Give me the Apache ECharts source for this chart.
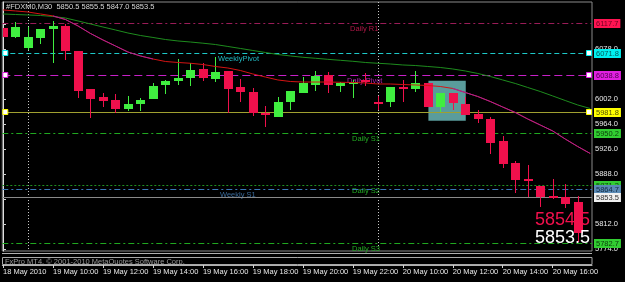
<!DOCTYPE html>
<html><head><meta charset="utf-8">
<script src="https://cdn.jsdelivr.net/npm/echarts@6/dist/echarts.min.js"></script>
<style>html,body{margin:0;padding:0;background:#000;}#c{width:625px;height:282px;}</style>
</head><body><div id="c"></div>
<script>
// ---------- data ----------
const titleText = '#FDXM0,M30  5850.5 5855.5 5847.0 5853.5';
const copyrightText = 'FxPro MT4, \u00a9 2001-2010 MetaQuotes Software Corp.';
const bidText = '5854.5';
const askText = '5853.5';

const timeLabels = ['18 May 2010','19 May 10:00','19 May 12:00','19 May 14:00','19 May 16:00','19 May 18:00',
  '19 May 20:00','19 May 22:00','20 May 10:00','20 May 12:00','20 May 14:00','20 May 16:00'];
const timeTickIndex = [0,4,8,12,16,20,24,28,32,36,40,44];
const priceTicks = [5774,5812,5850,5888,5926,5964,6002,6040,6078,6116];

const opens  = [6109.5,6096.7,6079.1,6094.3,6107.9,6113.0,6075.4,6017.2,6005.0,6000.5,5987.3,5994.4,6001.5,6022.8,6028.9,6033.9,
  6047.6,6032.4,6044.6,6019.8,6012.6,5981.2,5975.1,5997.4,6011.6,6023.3,6038.5,6022.2,6024.3,6031.0,5997.4,5997.9,
  6019.8,6016.7,6025.9,5990.3,6010.7,5994.4,5979.2,5971.1,5938.2,5905.2,5880.4,5869.8,5854.6,5853.5,5845.9];
const closes = [6096.7,6111.0,6095.8,6107.9,6113.4,6075.4,6014.6,6002.5,5999.4,5987.3,5994.4,6000.5,6022.2,6029.4,6033.9,6046.5,
  6033.5,6043.5,6016.7,6012.6,5981.2,5977.2,5997.9,6014.6,6026.8,6037.0,6023.3,6026.8,6028.3,6030.0,5995.9,6019.8,
  6016.7,6025.9,5990.3,6010.7,5995.5,5977.7,5971.1,5935.6,5902.7,5878.9,5877.4,5852.6,5852.3,5842.4,5798.3];
const lows   = [6096.7,6094.3,6076.5,6085.1,6056.3,6061.3,6003.0,5972.7,5990.3,5980.3,5984.2,5984.2,6001.5,6009.1,6023.3,6022.2,
  6029.4,6028.3,5980.3,5997.9,5976.2,5959.0,5975.1,5985.3,6011.6,6014.6,6011.6,6013.1,6004.0,6022.0,5985.3,5990.3,
  5997.9,6013.1,5990.3,5982.7,5985.3,5977.7,5965.1,5918.4,5897.6,5858.7,5853.5,5837.4,5849.5,5835.9,5784.6];
const highs  = [6109.5,6119.5,6111.9,6108.4,6120.6,6115.5,6075.4,6017.2,6011.6,6009.1,6007.0,6003.0,6025.9,6030.9,6062.3,6057.2,
  6056.3,6066.3,6044.6,6032.4,6018.3,5991.4,6004.6,6014.6,6035.0,6044.6,6043.5,6027.5,6030.9,6042.0,6007.0,6020.0,
  6030.9,6044.6,6025.9,6010.7,6010.7,6004.3,5985.3,5975.1,5946.2,5907.8,5901.7,5869.8,5880.0,5872.3,5854.6];

const maFast = [6137.3,6135.8,6134.2,6131.2,6128.2,6122.8,6113.0,6101.6,6091.7,6082.6,6073.4,6067.4,6062.8,6059.0,6057.5,6056.3,
  6054.4,6051.4,6049.1,6045.3,6040.0,6035.4,6030.9,6028.6,6027.8,6027.8,6027.8,6027.4,6027.1,6026.3,6024.8,6024.8,
  6024.0,6023.3,6022.5,6021.0,6018.0,6011.9,6005.8,5998.2,5989.8,5981.5,5971.6,5962.5,5953.4,5941.2,5929.8,5919.2];
const maSlow = [6131.2,6130.4,6129.7,6128.9,6127.4,6125.1,6120.6,6116.0,6111.4,6106.9,6102.3,6098.5,6095.5,6092.4,6090.2,6088.6,
  6086.8,6084.8,6081.8,6078.8,6075.7,6072.7,6069.6,6067.4,6065.4,6063.9,6062.3,6060.8,6059.3,6057.5,6056.3,6055.2,
  6053.7,6052.9,6051.4,6049.9,6047.6,6044.6,6040.8,6036.2,6030.9,6025.6,6019.5,6013.4,6006.6,5999.7,5992.9,5987.6];
const maFastFalling = [[4,12],[36,47]];

const levelNames  = ['Daily R1','WeeklyPivot','Daily Pivot','','Daily S1','Daily S2','Weekly S1','','Daily S3'];
const levelValues = [6117.7,6071.8,6038.8,5981.8,5950.2,5871.3,5864.7,5853.5,5782.7];

const daySeparators = [2,30];
const boxIndexRange = [34.05,37.04];
const boxPriceRange = [6029.8,5969.0];

// ---------- styles / layout ----------
const FONT = 'Liberation Sans';
const UP = '#40ee40', DOWN = '#f0104c';
const levelStyles = [
  {line:'#9a1c58', dash:[6,3,2,3], box:'#ff1452', text:'#700020', name:'#b01848', at:27.8},
  {line:'#1ec8c8', dash:[5,3],     box:'#00f0f0', text:'#005a5a', name:'#20b8c0', at:17.2, sym:true},
  {line:'#c820c8', dash:[8,4],     box:'#e020e0', text:'#500050', name:'#b020b0', at:27.5, sym:true},
  {line:'#a0a030', dash:null,      box:'#ffff00', text:'#505000', name:'#9a9a2a', at:0, sym:true},
  {line:'#20a820', dash:[6,3,2,3], box:'#32cd32', text:'#0c400c', name:'#22a822', at:27.9},
  {line:'#209020', dash:[2,2],     box:'#32cd32', text:'#0c400c', name:'#22a822', at:27.9},
  {line:'#3a78b8', dash:[6,3,2,3], box:'#5a8ab5', text:'#102840', name:'#3a6a9a', at:17.4},
  {line:'#8a8a8a', dash:null,      box:'#f0f0f0', text:'#303030', name:'#808080', at:0},
  {line:'#20a820', dash:[6,3,2,3], box:'#32cd32', text:'#0c400c', name:'#22a822', at:27.9}
];

const candleData = opens.map((o,i)=>[i,o,closes[i],lows[i],highs[i]]);
const fastData = maFast.map((v,i)=>[i,v]);
const slowData = maSlow.map((v,i)=>[i,v]);
const fallData = maFast.map((v,i)=>[i, maFastFalling.some(r=>i>=r[0]&&i<=r[1]) ? v : null]);
const levelData = levelValues.map((v,i)=>[i,v]);
const sepData = daySeparators.map(d=>[d, 6000]);

const font = (s)=> s+'px "'+FONT+'"';

// split a horizontal line into solid dash rectangles (crisp, exact colour)
function dashRects(x0, x1, y, pattern, color){
  const out=[];
  if(!pattern){ out.push({type:'rect', shape:{x:x0,y:y,width:x1-x0,height:1}, style:{fill:color}}); return out; }
  let x=x0, k=0;
  while(x<x1){
    const len=pattern[k%pattern.length];
    if(k%2===0) out.push({type:'rect', shape:{x:x,y:y,width:Math.min(len,x1-x),height:1}, style:{fill:color}});
    x+=len; k++;
  }
  return out;
}

const chart = echarts.init(document.getElementById('c'), null, {renderer:'canvas'});
chart.setOption({
  backgroundColor:'#000',
  animation:false,
  grid:{left:2, top:2, width:590, height:249, show:true, borderColor:'#8a8a8a', borderWidth:1},
  xAxis:{type:'value', min:-0.056, max:47.144, offset:14,
    axisLine:{show:true, lineStyle:{color:'#b0b0b0'}},
    axisTick:{show:true, length:3, customValues:timeTickIndex, lineStyle:{color:'#d0d0d0'}},
    axisLabel:{customValues:timeTickIndex, align:'left', margin:3, color:'#e8e8e8', fontSize:7.5, fontFamily:FONT,
      formatter:(v)=>{const k=timeTickIndex.indexOf(Math.round(v)); return k>=0?timeLabels[k]:'';}},
    splitLine:{show:false}},
  yAxis:{type:'value', position:'right', min:5771.0, max:6149.4,
    axisLine:{show:true, lineStyle:{color:'#e0e0e0'}},
    axisTick:{show:true, length:3, customValues:priceTicks, lineStyle:{color:'#d0d0d0'}},
    axisLabel:{customValues:priceTicks, margin:3, color:'#e8e8e8', fontSize:7.5, fontFamily:FONT,
      formatter:(v)=>v.toFixed(1)},
    splitLine:{show:false}},
  graphic:[
    {type:'text', left:6, top:3, z:50, style:{text:titleText, fill:'#d8d8d8', font:font(7.5)}},
    {type:'line', z:50, shape:{x1:2,y1:253.5,x2:592,y2:253.5}, style:{stroke:'#b0b0b0', lineWidth:1}},
    {type:'rect', z:50, shape:{x:2.5,y:257.5,width:589.5,height:7}, style:{fill:null, stroke:'#a8a8a8', lineWidth:1}},
    {type:'text', left:5, top:258, z:50, style:{text:copyrightText, fill:'#9a9a9a', font:font(7.5)}},
    {type:'text', z:50, x:590, y:220.5, style:{text:bidText, fill:'#f0104c', font:font(18), textAlign:'right', textVerticalAlign:'middle'}},
    {type:'text', z:50, x:590, y:238.5, style:{text:askText, fill:'#ffffff', font:font(18), textAlign:'right', textVerticalAlign:'middle'}}
  ],
  series:[
    {type:'line', data:[], z:1,
      markArea:{silent:true, itemStyle:{color:'#5a9c9c'},
        data:[[{coord:[boxIndexRange[0],boxPriceRange[0]]},{coord:[boxIndexRange[1],boxPriceRange[1]]}]]}
    },
    // day separators (crisp dotted verticals)
    {type:'custom', z:1, silent:true, data:sepData, encode:{x:0,y:1},
      renderItem:(params, api)=>{
        const cs=params.coordSys; const x=Math.round(api.coord([api.value(0),6000])[0]);
        const ch=[];
        for(let y=cs.y; y<cs.y+cs.height; y+=3) ch.push({type:'rect', shape:{x:x,y:y,width:1,height:1}, style:{fill:'#c8c8c8'}});
        return {type:'group', children:ch};
      }},
    // horizontal levels with price boxes and names
    {type:'custom', z:2, silent:true, data:levelData, encode:{x:0,y:1}, clip:false,
      renderItem:(params, api)=>{
        const k=api.value(0), v=api.value(1), s=levelStyles[k];
        const cs=params.coordSys;
        const y=Math.round(api.coord([0,v])[1]);
        const x0=cs.x, x1=cs.x+cs.width;
        const ch=dashRects(x0, x1, y, s.dash, s.line);
        if(s.sym){
          ch.push({type:'rect', shape:{x:x0+0.5,y:y-2.5,width:5,height:5}, style:{fill:'#ffffff', stroke:s.box, lineWidth:1}});
          ch.push({type:'rect', shape:{x:x1-5.5,y:y-2.5,width:5,height:5}, style:{fill:'#ffffff', stroke:s.box, lineWidth:1}});
        }
        if(levelNames[k]){
          const nx=Math.round(api.coord([s.at,v])[0]);
          ch.push({type:'text', x:nx, y:y+2, style:{text:levelNames[k], fill:s.name, font:font(7.5), textAlign:'left', textVerticalAlign:'top'}});
        }
        ch.push({type:'text', x:x1+2, y:y+0.5, z2:10, style:{text:v.toFixed(1), fill:s.text, backgroundColor:s.box, padding:[1,2,0,2], font:font(7.5), textAlign:'left', textVerticalAlign:'middle'}});
        return {type:'group', children:ch};
      }},
    // candles
    {type:'custom', z:3, data:candleData, encode:{x:0, y:[1,2,3,4]},
      renderItem:(params, api)=>{
        const cs=params.coordSys;
        const i=api.value(0), o=api.value(1), c=api.value(2), l=api.value(3), h=api.value(4);
        const po=api.coord([i,o]), pc=api.coord([i,c]), pl=api.coord([i,l]), ph=api.coord([i,h]);
        const cx=Math.round(po[0]);
        const col = c>=o ? UP : DOWN;
        let t=Math.round(Math.min(po[1],pc[1])), b=Math.round(Math.max(po[1],pc[1]));
        if(b-t<2) b=t+2;
        const left=Math.max(cx-4, cs.x+1), right=Math.min(cx+5, cs.x+cs.width);
        return {type:'group', children:[
          {type:'rect', shape:{x:cx, y:Math.round(ph[1]), width:1, height:Math.round(pl[1])-Math.round(ph[1])}, style:{fill:col}},
          {type:'rect', shape:{x:left, y:t, width:right-left, height:b-t}, style:{fill:col}}
        ]};
      }
    },
    {type:'line', z:4, data:slowData, showSymbol:false, silent:true, lineStyle:{color:'#1e8c1e', width:1}},
    {type:'line', z:4, data:fastData, showSymbol:false, silent:true, lineStyle:{color:'#d41414', width:1}},
    {type:'line', z:5, data:fallData, showSymbol:false, silent:true, connectNulls:false, lineStyle:{color:'#a8229a', width:1}}
  ]
});
</script></body></html>
